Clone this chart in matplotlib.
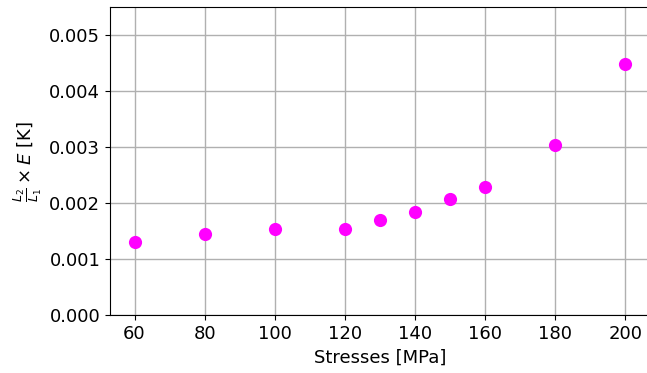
import matplotlib
matplotlib.use("Agg")
import matplotlib.pyplot as plt

stresses = [60, 80, 100, 120, 130, 140, 150, 160, 180, 200]
values = [0.001309, 0.001452, 0.001541, 0.001547, 0.001696, 0.001845,
          0.002071, 0.002296, 0.003041, 0.004482]

W, H = 647, 373
fig = plt.figure(figsize=(W / 100, H / 100), dpi=100)
left, right, top, bottom = 110, 650, 7, 315.3
ax = fig.add_axes([left / W, (H - bottom) / H, (right - left) / W, (bottom - top) / H])

ax.scatter(stresses, values, s=90, color="#ff00ff", zorder=3, linewidths=0)
ax.set_xlim(53, 207)
ax.set_ylim(0, 0.0055)
ax.set_xticks([60, 80, 100, 120, 140, 160, 180, 200])
ax.set_yticks([0.000, 0.001, 0.002, 0.003, 0.004, 0.005])
ax.grid(True, color="#b0b0b0", linewidth=1.0)
ax.set_axisbelow(True)
ax.tick_params(labelsize=13)
ax.set_xlabel("Stresses [MPa]", fontsize=13)
ax.set_ylabel(r"$\frac{L_2}{L_1} \times E$ [K]", fontsize=13)

fig.savefig("out.png", dpi=100)
